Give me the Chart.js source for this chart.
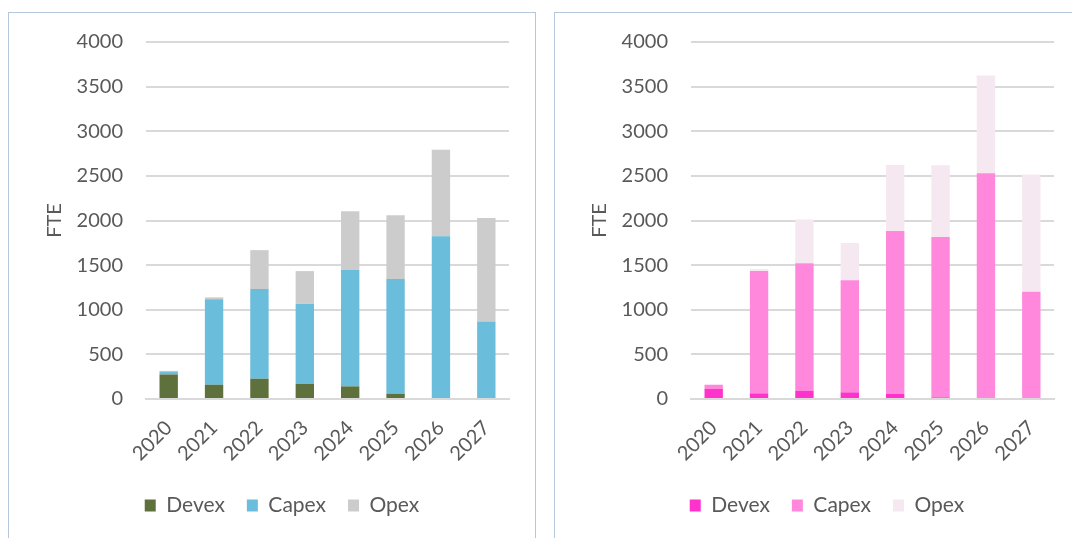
<!DOCTYPE html>
<html><head><meta charset="utf-8">
<script src="https://cdn.jsdelivr.net/npm/chart.js@4/dist/chart.umd.min.js"></script>
<style>
html,body{margin:0;padding:0;background:#fff;overflow:hidden;width:1072px;height:538px;}
.panel{position:absolute;top:12px;width:528px;height:560px;border:1.5px solid #b4c7dc;box-sizing:border-box;}
.cv{position:absolute;top:0;}
</style></head><body>
<div class="panel" style="left:8px"></div>
<div class="panel" style="left:554px"></div>
<canvas id="c1" class="cv" style="left:0px"></canvas>
<canvas id="c2" class="cv" style="left:545px"></canvas>
<script>
const years = ['2020','2021','2022','2023','2024','2025','2026','2027'];
const yTicks = [0,500,1000,1500,2000,2500,3000,3500,4000];
const seriesNames = ['Devex','Capex','Opex'];
const leftDevex = [275,160,227,171,141,59,0,0];
const leftCapex = [33,957,1005,894,1303,1285,1824,867];
const leftOpex  = [7,22,436,368,659,715,969,1162];
const rightDevex = [115,63,93,74,56,18,0,0];
const rightCapex = [45,1371,1427,1256,1826,1797,2530,1203];
const rightOpex  = [0,23,492,417,741,804,1096,1312];
const leftColors = ['#5e703b','#6bbddc','#cccccc'];
const rightColors = ['#ff33cc','#ff88dd','#f5e8f0'];

const FONT = 'Lato, "Open Sans", sans-serif';
const TXT = '#595959';

function make(id, data, colors){
  const cv = document.getElementById(id);
  cv.width = 545; cv.height = 560;
  cv.style.width='545px'; cv.style.height='560px';
  new Chart(cv, {
    type:'bar',
    data:{labels:years, datasets:data.map((d,i)=>({label:seriesNames[i], data:d, backgroundColor:colors[i], borderWidth:0, barPercentage:0.405, categoryPercentage:1}))},
    options:{
      responsive:false, animation:false,
      layout:{padding:{left:55,right:36,top:42,bottom:34}},
      plugins:{
        tooltip:{enabled:false},
        legend:{position:'bottom', labels:{font:{family:FONT,size:21}, color:TXT, boxWidth:11, boxHeight:12, padding:22}}
      },
      scales:{
        x:{stacked:true, grid:{display:false}, border:{display:true,color:'#d9d9d9',width:2},
           ticks:{font:{family:FONT,size:20}, color:TXT, minRotation:45, maxRotation:45, padding:9},
           afterFit:(s)=>{s.height=74;}},
        y:{stacked:true, min:0, max:4000, afterBuildTicks:(s)=>{s.ticks=yTicks.map(v=>({value:v}));},
           grid:{color:'#d9d9d9', lineWidth:2, drawTicks:false}, border:{display:false},
           ticks:{font:{family:FONT,size:20}, color:TXT, padding:23, callback:(v)=>String(v)},
           title:{display:true,text:'FTE',font:{family:FONT,size:20},color:TXT,padding:{top:-12,bottom:0}},
           afterFit:(s)=>{s.width=91;}}
      }
    }
  });
}
make('c1',[leftDevex,leftCapex,leftOpex],leftColors);
make('c2',[rightDevex,rightCapex,rightOpex],rightColors);
</script></body></html>
